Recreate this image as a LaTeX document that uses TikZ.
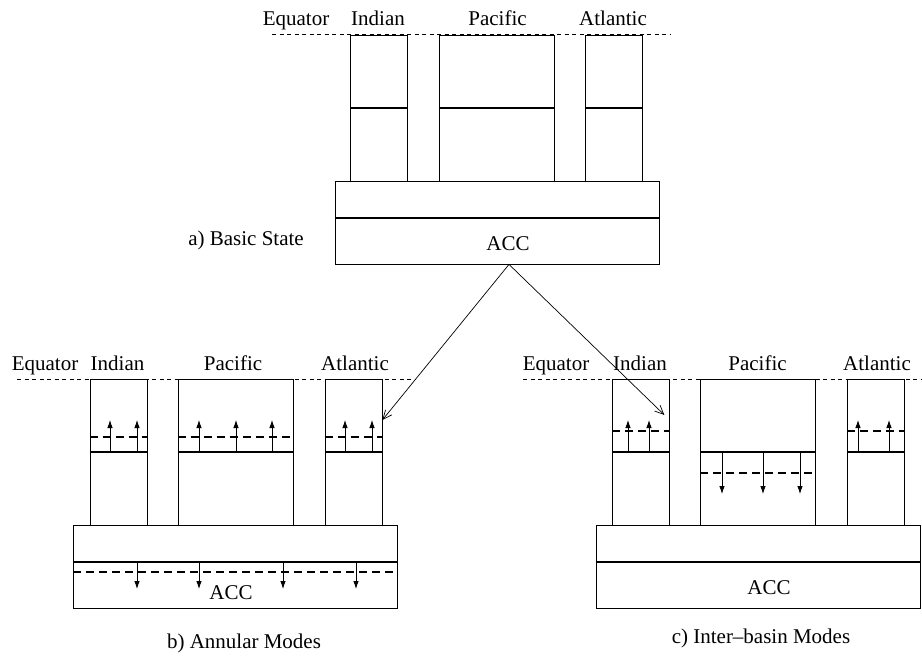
\documentclass[tikz,border=0pt]{standalone}
\usepackage{fontspec}
\setmainfont{Liberation Serif}
\usetikzlibrary{arrows.meta}
\begin{document}
\begin{tikzpicture}[
    x=1pt, y=-1pt, font=\rmfamily\fontsize{21}{25}\selectfont,
    basin/.style={draw, line width=0.8pt, inner sep=0pt,
                  minimum height=146pt},
    narrow/.style={basin, minimum width=57pt},
    wide/.style={basin, minimum width=115pt},
    accbox/.style={draw, line width=0.8pt, inner sep=0pt,
                   minimum width=324pt, minimum height=83pt},
    equator/.style={line width=0.6pt, dash pattern=on 4pt off 3.5pt},
    layer/.style={line width=2pt},
    pert/.style={line width=2pt, dash pattern=on 8pt off 5pt},
    flow/.style={-{Latex[length=8pt,width=5.5pt]}, line width=0.8pt},
    link/.style={-{Straight Barb[length=9pt,width=8pt]}, line width=0.7pt},
    lbl/.style={anchor=base, inner sep=0pt},
]
\useasboundingbox (0,0) rectangle (922,657);

% a) basic state
\draw[equator] (272,34) -- (670,34);
\node[lbl] (eqA) at (296,25) {Equator};
\node[lbl] (indLabA) at (378,25) {Indian};
\node[lbl] (pacLabA) at (497.5,25) {Pacific};
\node[lbl] (atlLabA) at (613,25) {Atlantic};
\node[narrow] (indA) at (379,108) {};
\node[wide] (pacA) at (496.5,108) {};
\node[narrow] (atlA) at (614,108) {};
\node[accbox] (accA) at (497,222.5) {};
\foreach \b in {indA,pacA,atlA}
    \draw[layer] (\b.west) -- (\b.east);
\draw[layer] ([yshift=5pt]accA.west) -- ([yshift=5pt]accA.east);
\node[lbl] (accLabA) at (508,250) {ACC};
\node[lbl] (titleA) at (246,245) {a) Basic State};

% b) annular modes
\draw[equator] (17,379) -- (415,379);
\node[lbl] (eqB) at (45,370) {Equator};
\node[lbl] (indLabB) at (117.5,370) {Indian};
\node[lbl] (pacLabB) at (233,370) {Pacific};
\node[lbl] (atlLabB) at (355,370) {Atlantic};
\node[narrow] (indB) at (118.5,452) {};
\node[wide] (pacB) at (235.5,452) {};
\node[narrow] (atlB) at (353.5,452) {};
\node[accbox] (accB) at (235.5,566.5) {};
\foreach \b in {indB,pacB,atlB} {
    \draw[layer] (\b.west) -- (\b.east);
    \draw[pert] (\b.west |- 0,437) -- (\b.east |- 0,437);
}
\foreach \x in {110,137,199,236,272,345,372}
    \draw[flow] (\x,452) -- (\x,420);
\draw[layer] ([yshift=4.5pt]accB.west) -- ([yshift=4.5pt]accB.east);
\draw[pert] (accB.west |- 0,572) -- (accB.east |- 0,572);
\foreach \x in {137,199,283,356}
    \draw[flow] (\x,562) -- (\x,589);
\node[lbl] (accLabB) at (231,599) {ACC};
\node[lbl] (titleB) at (244,648) {b) Annular Modes};

% c) inter-basin modes
\draw[equator] (523,379) -- (922,379);
\node[lbl] (eqC) at (556,370) {Equator};
\node[lbl] (indLabC) at (640,370) {Indian};
\node[lbl] (pacLabC) at (757.5,370) {Pacific};
\node[lbl] (atlLabC) at (877,370) {Atlantic};
\node[narrow] (indC) at (640.5,452) {};
\node[wide] (pacC) at (758,452) {};
\node[narrow] (atlC) at (876,452) {};
\node[accbox] (accC) at (758,566.5) {};
\foreach \b in {indC,pacC,atlC}
    \draw[layer] (\b.west) -- (\b.east);
\draw[pert] (indC.west |- 0,431) -- (indC.east |- 0,431);
\draw[pert] (atlC.west |- 0,431) -- (atlC.east |- 0,431);
\draw[pert] (pacC.west |- 0,473) -- (pacC.east |- 0,473);
\foreach \x in {628,649,858,889}
    \draw[flow] (\x,452) -- (\x,420);
\foreach \x in {722,763,800}
    \draw[flow] (\x,452) -- (\x,494);
\draw[layer] ([yshift=4.5pt]accC.west) -- ([yshift=4.5pt]accC.east);
\node[lbl] (accLabC) at (769,594) {ACC};
\node[lbl] (titleC) at (761,643) {c) Inter--basin Modes};

% links from the basic state
\coordinate (tipB) at ([yshift=32pt]atlB.east);
\coordinate (tipC) at ([xshift=-5pt,yshift=37pt]indC.east);
\draw[link] ([xshift=12pt]accA.south) -- (tipB);
\draw[link] ([xshift=12pt]accA.south) -- (tipC);
\end{tikzpicture}
\end{document}
